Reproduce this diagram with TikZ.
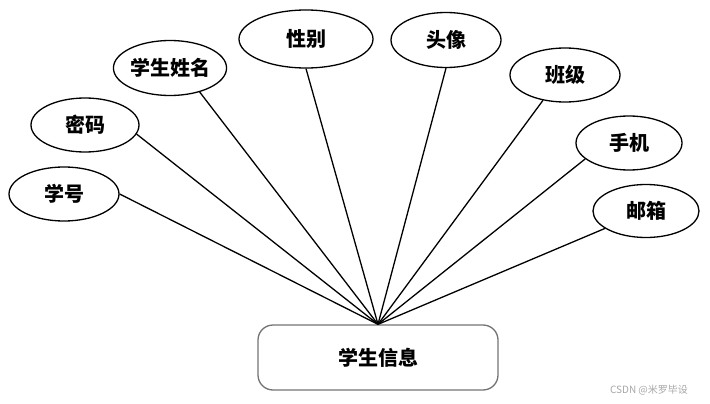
\documentclass[tikz,border=0pt]{standalone}
\usepackage{fontspec}
\newfontfamily\cjk{Noto Sans CJK SC}
\usetikzlibrary{shapes.geometric}

\begin{document}
\begin{tikzpicture}[x=1pt, y=-1pt, line width=1.3pt,
  attr/.style={draw, ellipse, inner sep=0pt, minimum width=108pt, minimum height=54pt, font=\cjk\bfseries\fontsize{20}{24}\selectfont},
  entity/.style={draw=black!55, rectangle, rounded corners=15pt, minimum width=240pt, minimum height=65pt, font=\cjk\bfseries\fontsize{20}{24}\selectfont}]
\useasboundingbox (0,0) rectangle (710,404);

% attributes
\node (xuehao) [attr, minimum width=110pt] at (64,194) {学号};
\node (mima) [attr] at (85,125) {密码};
\node (xingming) [attr, minimum width=112pt, minimum height=55pt] at (170,68) {学生姓名};
\node (xingbie) [attr, minimum width=134pt, minimum height=58pt] at (306,39) {性别};
\node (touxiang) [attr, minimum width=110pt, minimum height=55pt] at (446,40) {头像};
\node (banji) [attr, minimum width=110pt] at (565,75) {班级};
\node (shouji) [attr, minimum width=106pt] at (629,143) {手机};
\node (youxiang) [attr, minimum width=106pt, minimum height=53pt] at (646,211) {邮箱};

% entity
\node (info) [entity] at (378,357.5) {学生信息};

% links
\draw (xuehao.east) -- (info.north);
\draw (mima.-10) -- (info.north);
\draw (xingming.-39) -- (info.north);
\draw (xingbie.south) -- (info.north);
\draw (touxiang.south) -- (info.north);
\draw (banji.-131) -- (info.north);
\draw (shouji.-160) -- (info.north);
\draw (youxiang.-157) -- (info.north);

% watermark
\node (mark) [text=black!35, font=\cjk\fontsize{10}{12}\selectfont] at (649,390) {CSDN @米罗毕设};
\end{tikzpicture}
\end{document}
